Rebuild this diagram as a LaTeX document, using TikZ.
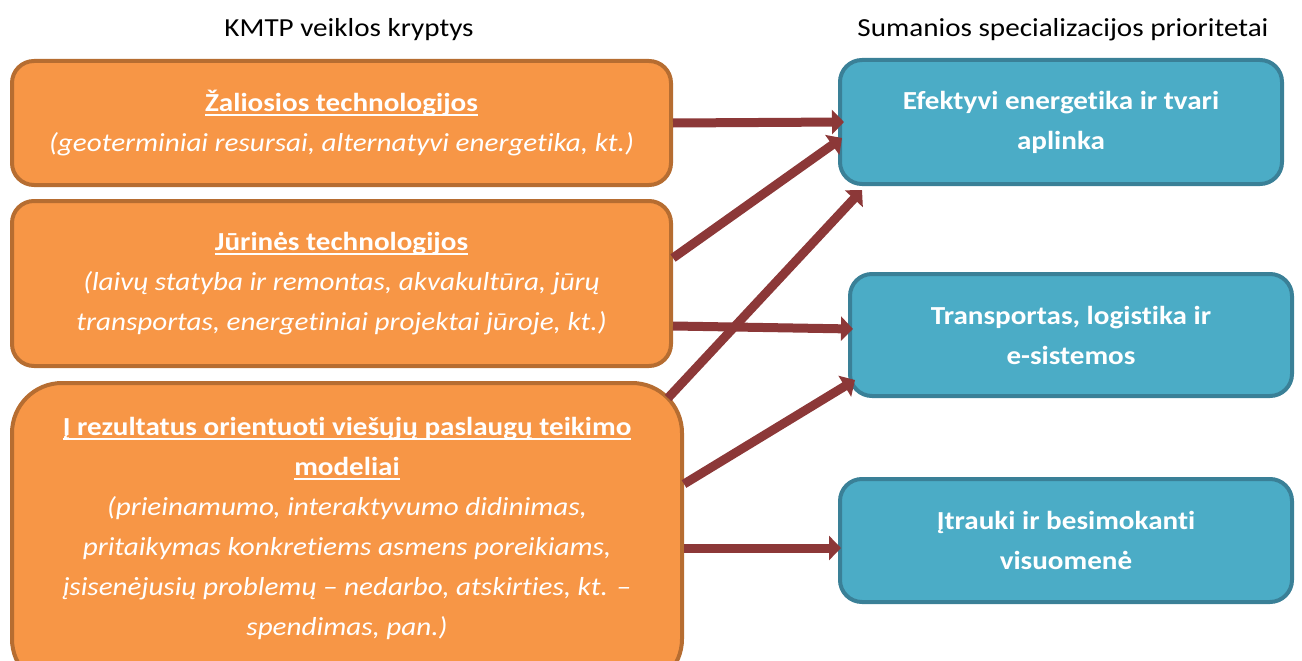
\documentclass[tikz,border=0pt]{standalone}
\usepackage{fontspec}
\setmainfont{Carlito}[Ligatures=NoCommon, FakeStretch=1.12]
\usepackage{xcolor}
\usetikzlibrary{arrows.meta}
\definecolor{kmtporange}{HTML}{F79646}
\definecolor{kmtpedge}{HTML}{B66D31}
\definecolor{priofill}{HTML}{4BACC6}
\definecolor{prioedge}{HTML}{3A8097}
\definecolor{linkred}{HTML}{8C3838}
\newcommand{\uln}[1]{\setbox0\hbox{#1}\rlap{\rule[-4.5pt]{\wd0}{1.8pt}}\box0}

\begin{document}
\begin{tikzpicture}[x=1pt, y=-1pt,
  kmtpbox/.style={draw=kmtpedge, fill=kmtporange, line width=4pt, rounded corners=22pt, inner sep=0pt},
  kmtptext/.style={text=white, align=center, font=\fontsize{26}{40}\selectfont},
  priobox/.style={draw=prioedge, fill=priofill, line width=4pt, rounded corners=22pt, inner sep=0pt, text=white, align=center, font=\bfseries\fontsize{26}{40}\selectfont},
  head/.style={font=\fontsize{26}{32}\selectfont},
  link/.style={draw=linkred, line width=9pt, -{Triangle[length=12pt,width=24pt]}}]
\useasboundingbox (0,0) rectangle (1302,661);
%%%%% Headers %%%%%
\node[head] (lefthead) at (349,30) {KMTP veiklos kryptys};
\node[head] (righthead) at (1063,30) {Sumanios specializacijos prioritetai};
%%%%% KMTP directions %%%%%
\node[kmtpbox, kmtptext, minimum width=659, minimum height=124] (kmtp1) at (341.5,123)
  {{\bfseries\uln{Žaliosios technologijos}}\\
   {\itshape (geoterminiai resursai, alternatyvi energetika, kt.)}};
\node[kmtpbox, kmtptext, minimum width=659, minimum height=165] (kmtp2) at (341.5,283.5)
  {{\bfseries\uln{Jūrinės technologijos}}\\
   {\itshape (laivų statyba ir remontas, akvakultūra, jūrų}\\
   {\itshape transportas, energetiniai projektai jūroje, kt.)}};
\node[kmtpbox, minimum width=670, minimum height=306, rounded corners=50pt] (kmtp3) at (347,536) {};
\begin{scope}
\clip (0,0) rectangle (1302,643);
\node[kmtptext] (kmtp3txt) at (347,528)
  {{\bfseries\uln{Į rezultatus orientuoti viešųjų paslaugų teikimo}}\\
   {\bfseries\uln{modeliai}}\\
   {\itshape (prieinamumo, interaktyvumo didinimas,}\\
   {\itshape pritaikymas konkretiems asmens poreikiams,}\\
   {\itshape įsisenėjusių problemų – nedarbo, atskirties, kt. –}\\
   {\itshape spendimas, pan.)}};
\end{scope}
%%%%% Priorities %%%%%
\node[priobox, minimum width=442, minimum height=124] (prio1) at (1061,122)
  {Efektyvi energetika ir tvari\\aplinka};
\node[priobox, minimum width=442, minimum height=122] (prio2) at (1071,335)
  {Transportas, logistika ir\\e-sistemos};
\node[priobox, minimum width=452, minimum height=123] (prio3) at (1066,540.5)
  {Įtrauki ir besimokanti\\visuomenė};
%%%%% Links %%%%%
\draw[link] (kmtp1.east) -- ([xshift=6pt]prio1.west);
\draw[link] ([yshift=25.5pt]kmtp2.east) -- ([xshift=4pt,yshift=-16pt]prio1.west);
\draw[link] ([xshift=-16pt,yshift=-17pt]kmtp3.north east) -- ([xshift=24pt,yshift=-4pt]prio1.south west);
\draw[link] ([yshift=-42.5pt]kmtp2.east) -- ([xshift=5pt,yshift=6pt]prio2.west);
\draw[link] ([yshift=52pt]kmtp3.east) -- ([xshift=7pt,yshift=18pt]prio2.south west);
\draw[link] ([yshift=-12pt]kmtp3.east) -- ([xshift=3pt,yshift=-7.5pt]prio3.west);
\end{tikzpicture}
\end{document}
